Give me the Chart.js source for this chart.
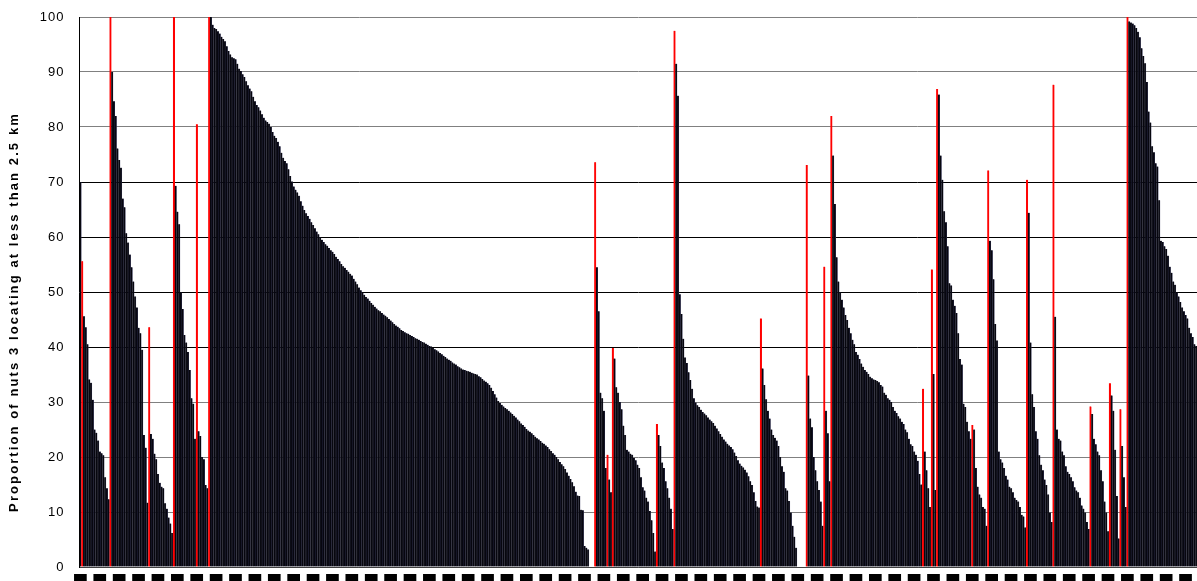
<!DOCTYPE html>
<html lang="en">
<head>
    <meta charset="utf-8">
    <title>Nuts 3 within 2.5 km</title>
    <script src="https://cdn.jsdelivr.net/npm/chart.js"></script>
    <style>
        body { margin: 0; background: #fff; }
        #wrap { width: 1197px; height: 581px; }
    </style>
</head>
<body>
    <div id="wrap"><canvas id="barChart" width="1197" height="581"></canvas></div>
    <script>
        // one array per country: first value is the capital region (red), then the rest sorted
        const leadBar = [70];
        const countryA = [55.6, 45.6, 43.6, 40.5, 34.1, 33.5, 30.4, 25, 24.4, 23, 21, 20.7, 20.3, 16.3, 14.3, 12.3];
        const countryB = [100, 90, 84.7, 82, 76.1, 74, 72.6, 67, 65.4, 60.7, 59, 56.8, 54.5, 51.9, 49.2, 47.2, 43.5, 42.5, 39.5, 24, 21.7, 11.7];
        const countryC = [43.6, 24.2, 23.3, 20.6, 19.6, 16.9, 15.3, 14.6, 14.3, 11.6, 10.6, 9, 7.9, 6.2];
        const countryD = [100, 69.3, 64.6, 62.3, 49.9, 46.9, 42.2, 40.8, 39.1, 35.8, 30.7, 29.7, 23.3];
        const countryE = [80.5, 24.7, 23.8, 20, 19.6, 14.9, 14.3];
        const countryF = [100,
            100, 98.6, 98, 97.8, 97.4, 97, 96.4, 96, 95.6, 94.7,
            93.8, 93.2, 92.7, 92.5, 92.3, 91.5, 90.6, 90.2, 89.6, 89.1,
            88.3, 87.6, 87, 86.5, 85.5, 84.7, 84, 83.6, 83, 82.3,
            81.7, 81.2, 80.9, 80.6, 80, 79.1, 78.4, 78, 77.3, 76.5,
            75.3, 74.4, 73.8, 73.4, 72.3, 71.1, 70.1, 69.2, 68.6, 68.1,
            67.5, 66.5, 65.7, 64.9, 64.3, 63.8, 63.3, 62.7, 62.2, 61.6,
            61, 60.5, 59.9, 59.5, 59.1, 58.7, 58.4, 58, 57.6, 57.3,
            56.9, 56.4, 56, 55.6, 55.1, 54.7, 54.4, 54, 53.7, 53.3,
            53, 52.4, 51.9, 51.4, 50.8, 50.3, 49.9, 49.5, 49.1, 48.8,
            48.4, 48, 47.7, 47.3, 47, 46.7, 46.5, 46.2, 45.9, 45.7,
            45.4, 45.1, 44.8, 44.5, 44.2, 43.9, 43.7, 43.4, 43.1, 42.9,
            42.7, 42.5, 42.4, 42.2, 42, 41.8, 41.6, 41.5, 41.3, 41.1,
            40.9, 40.8, 40.6, 40.4, 40.2, 40.1, 39.8, 39.6, 39.4, 39.2,
            38.9, 38.7, 38.4, 38.2, 37.9, 37.7, 37.5, 37.2, 37, 36.8,
            36.5, 36.3, 36.1, 35.9, 35.8, 35.7, 35.6, 35.5, 35.3, 35.2,
            35.1, 35, 34.7, 34.5, 34.2, 33.9, 33.7, 33.4, 33.1, 32.6,
            32, 31.4, 30.8, 30.2, 29.8, 29.5, 29.2, 28.9, 28.7, 28.4,
            28.1, 27.8, 27.5, 27.2, 26.8, 26.5, 26.1, 25.8, 25.5, 25.1,
            24.8, 24.6, 24.3, 24, 23.7, 23.4, 23.2, 22.9, 22.6, 22.4,
            22.1, 21.8, 21.4, 21.1, 20.7, 20.4, 20, 19.6, 19.1, 18.7,
            18.3, 17.8, 17.2, 16.6, 16, 15.4, 14.7, 13.7, 13, 12.9,
            10.4, 10.3, 3.8, 3.5, 3.2];
        const gapOne = [0, 0, 0];
        const countryG = [73.6, 54.5, 46.5, 31.7, 30.7, 28.4, 18];
        const countryH = [20.4, 15.9, 13.6];
        const countryI = [39.8, 37.9, 32.7, 31.7, 30, 28.7, 25.7, 24, 21.3, 21, 20.6, 20.4, 19.8, 19.4, 18.6, 18, 16.3, 14.5, 13.9, 12.6, 11.9, 10.2, 8.5, 6.2, 2.8];
        const countryJ = [26, 24, 22, 19, 18, 15.6, 14.3, 12.6, 10.6, 6.9];
        const countryK = [97.5, 91.5, 85.7, 49.6, 46, 41.5, 38.1, 37.1, 35.4, 34, 32.4, 30.7, 29.9, 29.4, 29.1, 28.6, 28.2, 27.9, 27.6, 27.2,
            26.8, 26.5, 26.2, 25.7, 25.2, 24.7, 24.2, 23.7, 23.2, 22.8, 22.4, 22.1, 21.8, 21.4, 20.8, 20.2, 19.4, 18.8, 18.4, 18.1,
            17.7, 17.2, 16.5, 15.6, 14.9, 13.6, 12, 11, 10.8];
        const countryL = [45.2, 36.1, 33.1, 30.5, 28.4, 27, 25, 24, 23.5, 23, 22, 20, 18.3, 17.3, 14.3, 13.9, 12, 9.9, 7.5, 5.5, 3.5];
        const gapTwo = [0, 0, 0, 0, 0];
        const countryM = [73.1, 34.8, 27, 25.4, 20, 17.6, 15.6, 14, 11.9, 7.5];
        const countryN = [54.6, 28.4, 24.3, 15.6];
        const countryO = [82, 74.8, 66, 56.3, 51.9, 49.9, 48.6, 47.2, 45.8, 44.9, 43.5, 42.5, 41.3, 40.5, 39.1, 38.6, 37.8, 37, 36.4, 35.8,
            35.5, 35.1, 34.6, 34.3, 34.1, 34, 33.8, 33.6, 33.1, 32.8, 31.7, 31.3, 30.7, 30.4, 30, 29.1, 28.4, 28, 27.4, 27,
            26.4, 26, 25, 24.5, 23.3, 22.3, 22, 21, 20.4, 19.3, 16.9, 15];
        const countryP = [32.4, 21, 17.6, 14.3, 10.9];
        const countryQ = [54.1, 35.1, 14];
        const countryR = [86.9, 85.9, 74.8, 70.4, 64.7, 62.7, 58.3, 51.6, 51.2, 48.6, 47.5, 46.2, 42.5, 37.8, 36.8, 29.7, 29.1, 26.4, 24.7, 23.3];
        const countryS = [25.8, 25, 18, 14.6, 13.2, 12.6, 10.9, 10.6, 7.5];
        const countryT = [72.1, 59.3, 57.6, 52.3, 44.2, 41.2, 21, 19.6, 19, 18, 16.6, 15.9, 14.6, 14.3, 13.6, 12.6, 12.2, 11.9, 10.9, 9.5, 9.2, 7.2];
        const countryU = [70.4, 64.4, 40.8, 31.4, 29.1, 24.7, 23.3, 20.3, 18.6, 17.6, 15.9, 14.9, 13.2, 9.9, 8.2];
        const countryV = [87.7, 45.5, 25, 23.3, 23, 21, 20.3, 18.3, 17.3, 16.9, 16.3, 15.6, 14.5, 13.9, 13.6, 12.6, 11.2, 10.6, 9.9, 8.2, 6.9];
        const countryW = [29.2, 27.8, 23.3, 22.3, 21, 20.3, 17.6, 15.6, 11.9, 9.9, 6.5];
        const countryX = [33.4, 31.2, 28.4, 21.3, 12.9, 5.2];
        const countryY = [28.7, 22, 16.3, 10.9];
        const countryZ = [100, 99.2, 99, 98.8, 98.5, 98, 97.3, 96.3, 94.3, 92.9, 91.6, 88.2, 82.8, 80.8, 76.5, 75.4, 73.4, 72.8, 66.7, 59.3,
            59.1, 58.3, 57.8, 56.6, 54.6, 53.5, 51.9, 51.3, 49.9, 49.2, 48.2, 47.2, 46.5, 45.8, 45.2, 43.5, 42.5, 41.8, 40.5, 40.2];

        // [bars, starts with a capital?]
        const order = [
            [leadBar, false], [countryA, true], [countryB, true], [countryC, true], [countryD, true], [countryE, true],
            [countryF, true], [gapOne, false], [countryG, true], [countryH, true], [countryI, true], [countryJ, true],
            [countryK, true], [countryL, true], [gapTwo, false], [countryM, true], [countryN, true], [countryO, true],
            [countryP, true], [countryQ, true], [countryR, true], [countryS, true], [countryT, true], [countryU, true],
            [countryV, true], [countryW, true], [countryX, true], [countryY, true], [countryZ, true]
        ];

        const values = [];
        const colors = [];
        order.forEach(([bars, hasCapital]) => {
            bars.forEach((v, i) => {
                values.push(v);
                colors.push(hasCapital && i === 0 ? '#ff0000' : '#07070f');
            });
        });
        const regionIds = values.map((v, i) => 'NUTS3-' + (i + 1));
        const labelEvery = 11;

        // the original axis text is drawn a bit stretched, so add letter spacing on the y scale
        const spacedText = {
            id: 'spacedText',
            beforeDraw(chart) {
                const y = chart.scales.y;
                if (y._spaced) return;
                const title = y.drawTitle.bind(y);
                const labels = y.drawLabels.bind(y);
                y.drawTitle = function () {
                    this.ctx.save();
                    this.ctx.letterSpacing = '2.1px';
                    title();
                    this.ctx.restore();
                };
                y.drawLabels = function (area) {
                    this.ctx.save();
                    this.ctx.letterSpacing = '1px';
                    labels(area);
                    this.ctx.restore();
                };
                y._spaced = true;
            }
        };

        const ctx = document.getElementById('barChart').getContext('2d');
        new Chart(ctx, {
            type: 'bar',
            data: {
                labels: regionIds,
                datasets: [{
                    label: 'Proportion',
                    data: values,
                    backgroundColor: colors,
                    borderColor: colors.map(c => c === '#ff0000' ? '#ff0000' : '#3d3d66'),
                    borderWidth: { left: 0, right: 0.4, top: 0, bottom: 0 },
                    barPercentage: 1,
                    categoryPercentage: 1
                }]
            },
            plugins: [spacedText],
            options: {
                responsive: false,
                animation: false,
                layout: { padding: { top: 17, right: 0, bottom: 0, left: 0 } },
                plugins: { legend: { display: false }, tooltip: { enabled: false } },
                scales: {
                    x: {
                        afterFit: (scale) => {
                            scale.height = 14;
                            scale.paddingLeft = 0;
                            scale.paddingRight = 0;
                        },
                        grid: { display: false, drawTicks: false, tickLength: 0 },
                        border: { display: true, color: '#404040', width: 1 },
                        ticks: {
                            autoSkip: false,
                            maxRotation: 0,
                            minRotation: 0,
                            padding: 7,
                            color: '#000',
                            font: { family: 'Liberation Sans', size: 6 },
                            callback: (v, i) => (i % labelEvery === 0 ? '00' : ''),
                            showLabelBackdrop: (c) => c.index % labelEvery === 0,
                            backdropColor: '#000',
                            backdropPadding: { top: 0, left: 3, right: 3, bottom: 0 }
                        }
                    },
                    y: {
                        min: 0,
                        max: 100,
                        afterFit: (scale) => {
                            scale.width = 79.5;
                            scale.paddingTop = 0;
                            scale.paddingBottom = 0;
                        },
                        grid: {
                            drawTicks: false,
                            color: (c) => (c.tick && c.tick.value >= 40 && c.tick.value <= 70 ? '#000' : '#808080')
                        },
                        border: { display: true, color: '#000', width: 1 },
                        ticks: {
                            stepSize: 10,
                            padding: 15,
                            color: '#000',
                            font: { family: 'Liberation Sans', size: 13 }
                        },
                        title: {
                            display: true,
                            text: 'Proportion of nuts 3 locating at less than 2.5 km       ',
                            color: '#000',
                            font: { family: 'Liberation Sans', size: 13, weight: 'bold' },
                            padding: { top: 7, bottom: 0 }
                        }
                    }
                }
            }
        });
    </script>
</body>
</html>
